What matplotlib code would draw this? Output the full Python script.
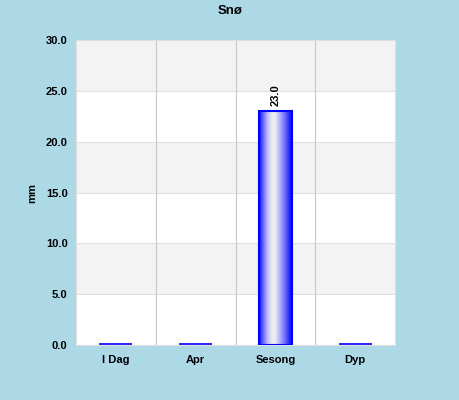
import numpy as np
import matplotlib
matplotlib.use("Agg")
import matplotlib.pyplot as plt
from matplotlib.colors import LinearSegmentedColormap

plt.rcParams['font.family'] = ['Liberation Sans', 'DejaVu Sans']

# --- data ---
categories = ["I Dag", "Apr", "Sesong", "Dyp"]
values = [0.0, 0.0, 23.0, 0.0]
title = "Snø"
ylabel = "mm"
y_max = 30.0
y_step = 5.0

BG = "#add8e6"
fig = plt.figure(figsize=(4.6, 4.0), dpi=100, facecolor=BG)
ax = fig.add_axes([0.165, 0.1375, 0.694, 0.7625])
ax.set_facecolor("white")

# alternating bands
ticks = np.arange(0, y_max + y_step / 2, y_step)
for i, lo in enumerate(ticks[:-1]):
    if i % 2 == 1:
        ax.axhspan(lo, lo + y_step, color="#f3f3f3", zorder=0, lw=0)
    ax.axhline(lo, color="#e0e0e0", lw=0.8, zorder=0.5)

n = len(categories)
for b in range(1, n):
    ax.axvline(b - 0.5, color="#c8c8c8", lw=0.8, zorder=0.5)

# gradient bars
cmap = LinearSegmentedColormap.from_list(
    "bar", [(0.0, "#1010ff"), (0.25, "#b8b8f8"), (0.4, "#f0f0f0"),
            (0.5, "#e8e8f6"), (0.75, "#8080fa"), (1.0, "#0000ff")])
grad = np.linspace(0, 1, 256).reshape(1, -1)
w = 0.41
for i, v in enumerate(values):
    x0 = i - w / 2
    if v > 0:
        ax.imshow(grad, extent=[x0, x0 + w, 0, v], aspect="auto", cmap=cmap,
                  zorder=2, interpolation="bilinear")
        ax.add_patch(plt.Rectangle((x0, 0), w, v, fill=False, ec="#0000ff",
                                   lw=1.5, zorder=3))
        ax.text(i, v + 0.5, f"{v:.1f}", rotation=90, ha="center", va="bottom",
                fontsize=8, fontweight="bold", zorder=4)
    else:
        ax.plot([x0, x0 + w], [0.1, 0.1], color="#0000ff", lw=1.2, zorder=3,
                solid_capstyle="butt")

ax.set_xlim(-0.5, n - 0.5)
ax.set_ylim(0, y_max)
ax.set_xticks(range(n))
ax.set_xticklabels(categories, fontsize=8, fontweight="bold")
ax.set_yticks(ticks)
ax.set_yticklabels([f"{t:.1f}" for t in ticks], fontsize=8, fontweight="bold")
ax.tick_params(axis="x", length=0, pad=7)
ax.tick_params(axis="y", length=0, pad=6)
for s in ax.spines.values():
    s.set_color("#e0e0e0")
    s.set_linewidth(0.8)

ax.set_ylabel(ylabel, fontsize=8, fontweight="bold")
ax.yaxis.set_label_coords(-0.122, 0.5)
fig.text(0.5, 0.972, title, ha="center", va="center", fontsize=9.5, fontweight="bold")

fig.savefig("out.png", dpi=100, facecolor=BG)
